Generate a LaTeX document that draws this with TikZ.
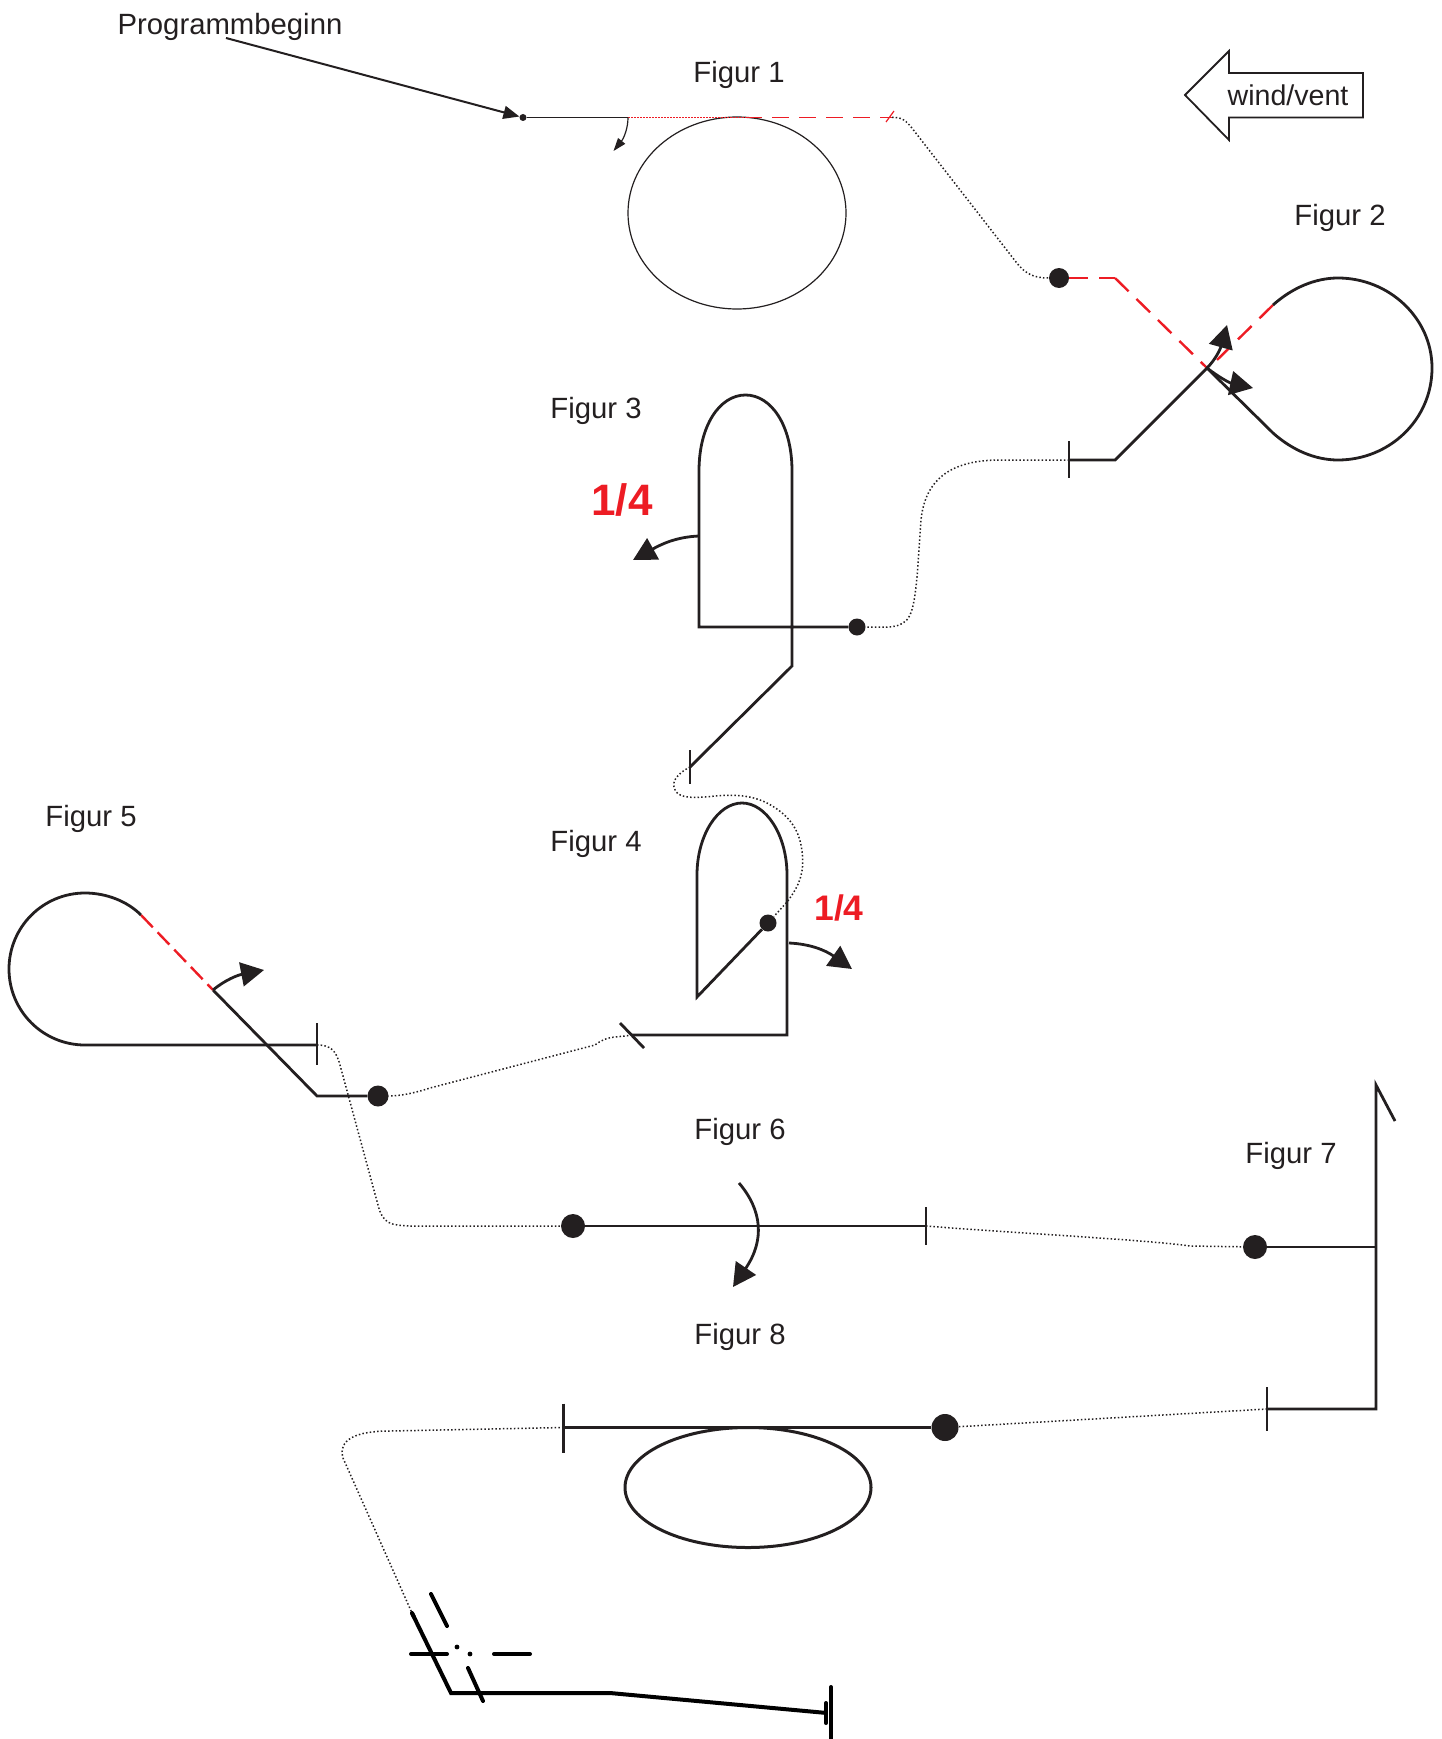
\documentclass[tikz,border=0pt]{standalone}
\usepackage{fontspec}
\setmainfont{Liberation Sans}
\usetikzlibrary{arrows.meta}
\definecolor{inkblack}{HTML}{231F20}
\definecolor{markred}{HTML}{ED1C24}
\tikzset{
	every node/.style={inner sep=0pt,text=inkblack},
	figlabel/.style={font=\fontsize{29.3}{34}\selectfont},
	quarter/.style={font=\bfseries\fontsize{#1}{#1}\selectfont,text=markred},
	blob/.style={circle,fill=inkblack,minimum size=#1},
	track/.style={draw=inkblack,line width=2.8pt,line join=miter},
	thintrack/.style={draw=inkblack,line width=1.2pt},
	redtrack/.style={draw=markred,line width=2.4pt,dash pattern=on 19pt off 11pt},
	link/.style={draw=inkblack,line width=1.5pt,dash pattern=on 1.5pt off 2.2pt},
	turn/.style={draw=inkblack,line width=2.8pt,-{Triangle[length=23pt,width=24pt]}},
	boldtrack/.style={draw=black,line width=4pt,line cap=round},
}
\begin{document}
\begin{tikzpicture}[x=1pt,y=-1pt]
	\useasboundingbox (0,0) rectangle (1442,1739);
	% labels
	\node [figlabel] (start) at (230,27) {Programmbeginn};
	\node [figlabel] (fig1) at (739,75) {Figur 1};
	\node [figlabel] (fig2) at (1340,218) {Figur 2};
	\node [figlabel] (fig3) at (596,411) {Figur 3};
	\node [figlabel] (fig4) at (596,844) {Figur 4};
	\node [figlabel] (fig5) at (91,819) {Figur 5};
	\node [figlabel] (fig6) at (740,1132) {Figur 6};
	\node [figlabel] (fig7) at (1291,1156) {Figur 7};
	\node [figlabel] (fig8) at (740,1337) {Figur 8};
	\node [quarter=44] (quarterleft) at (622,500) {1/4};
	\node [quarter=35.5] (quarterright) at (839,908) {1/4};
	% wind
	\draw [thintrack,line width=1.8pt] (1185,95) -- (1229,51) -- (1229,73) -- (1363,73) -- (1363,117.6) -- (1229,117.6) -- (1229,140) -- cycle;
	\node [figlabel,font=\fontsize{28.6}{34}\selectfont] (wind) at (1288,95) {wind/vent};
	% points
	\node [blob=7pt] (a1) at (523,117.5) {};
	\node [blob=20pt] (a2) at (1059,278) {};
	\node [blob=17pt] (a3) at (857,627) {};
	\node [blob=17pt] (a4) at (768,923) {};
	\node [blob=21pt] (a5) at (378,1096) {};
	\node [blob=24pt] (a6) at (573,1226) {};
	\node [blob=24pt] (a7) at (1255,1247) {};
	\node [blob=27pt] (a8) at (945,1427.5) {};
	\coordinate (b1) at (892,117.5);
	\coordinate (b2) at (1069,460);
	\coordinate (b3) at (690,767);
	\coordinate (b4) at (632,1035);
	\coordinate (b5) at (317,1045);
	\coordinate (b6) at (926,1226);
	\coordinate (b7) at (1267,1409);
	\coordinate (b8) at (563.5,1427.5);
	\coordinate (c1) at (628,117.5);
	\coordinate (c2) at (1207,368);
	\coordinate (c5) at (213,990);
	\coordinate (c8) at (412,1613);
	% start
	\draw [thintrack,line width=2pt,-{Triangle[length=16pt,width=13pt]}] (226,38) -- (a1);
	% figure 1
	\draw [thintrack] (737,213) circle [x radius=109,y radius=96];
	\draw [thintrack] (a1) -- (c1);
	\draw [draw=markred,line width=1.2pt,dash pattern=on 1.5pt off 1.5pt] (c1) -- (745,117.5);
	\draw [draw=markred,line width=1.5pt,dash pattern=on 17pt off 10pt] (745,117.5) -- (b1);
	\draw [draw=markred,line width=1.2pt] (886,122) -- (894,111);
	\draw [thintrack,-{Triangle[length=13pt,width=9pt]}] (c1) .. controls (628,128) and (624,138) .. (613.5,151);
	% figure 2
	\draw [redtrack] (a2) -- (1115,278);
	\draw [redtrack] (1115,278) -- (c2);
	\draw [redtrack] (1273,305) -- (1217,360);
	\draw [track] (1273,305) .. controls (1292,288) and (1315,278) .. (1338,278) .. controls (1389,278) and (1432,318) .. (1432,368) .. controls (1432,420) and (1389,460) .. (1338,460) .. controls (1315,460) and (1292,450) .. (1273,433) -- (c2) -- (1115,460) -- (b2);
	\draw [track] (b2) ++(0,-19) -- ++(0,37);
	\draw [turn] (c2) .. controls (1215,360) and (1220,350) .. (1227,325);
	\draw [turn] (c2) .. controls (1220,378) and (1230,383) .. (1253,388);
	% figure 3
	\draw [track] (a3) -- (699,627) -- (699,471) .. controls (699,425) and (720,395) .. (745.5,395) .. controls (771,395) and (792,425) .. (792,471) -- (792,666) -- (b3);
	\draw [track] (b3) ++(0,-17) -- ++(0,34);
	\draw [turn] (699,536) .. controls (675,537) and (660,545) .. (633,560);
	% figure 4
	\draw [track] (a4) -- (697,997) -- (697,875) .. controls (697,835) and (718,803) .. (742,803) .. controls (766,803) and (787,835) .. (787,875) -- (787,1035) -- (b4);
	\draw [track] (620,1023) -- (644,1048);
	\draw [turn] (789,943) .. controls (810,944) and (825,950) .. (852,969);
	% figure 5
	\draw [redtrack,dash pattern=on 17pt off 7pt] (141,915) -- (c5);
	\draw [track] (141,915) .. controls (127,901) and (106,893) .. (85,893) .. controls (43,893) and (9,927) .. (9,969) .. controls (9,1011) and (43,1045) .. (85,1045) -- (b5);
	\draw [track] (b5) ++(0,-22) -- ++(0,42);
	\draw [track] (c5) -- (317,1096) -- (a5);
	\draw [turn] (c5) .. controls (225,980) and (238,975) .. (264,970);
	% figure 6
	\draw [track] (a6) -- (b6);
	\draw [track] (b6) ++(0,-19) -- ++(0,38);
	\draw [turn] (739,1183) .. controls (762,1210) and (765,1240) .. (733,1287);
	% figure 7
	\draw [track] (a7) -- (1376,1247);
	\draw [track] (1395,1121) -- (1376,1085) -- (1376,1409) -- (b7);
	\draw [track] (b7) ++(0,-22) -- ++(0,44);
	% figure 8
	\draw [track,line width=3pt] (a8) -- (b8);
	\draw [track,line width=3pt] (b8) ++(0,-24) -- ++(0,49);
	\draw [track,line width=3pt] (748,1487.5) circle [x radius=123,y radius=60];
	\draw [boldtrack,line cap=butt,line join=miter] (c8) -- (451,1693) -- (610,1693) -- (827,1713);
	\draw [boldtrack] (412,1613) -- (414,1617);
	\draw [boldtrack] (831,1687) -- (831,1745);
	\draw [boldtrack] (826,1703) -- (826,1723);
	\draw [boldtrack] (431,1594) -- (447,1626);
	\draw [boldtrack] (468,1668) -- (483,1701);
	\draw [boldtrack] (411,1654) -- (447,1654);
	\draw [boldtrack] (494,1654) -- (530,1654);
	\fill [black] (457,1647) circle (2.4);
	\fill [black] (470,1654) circle (2.4);
	% dotted connections
	\draw [link] (b1) .. controls (902,117) and (906,120) .. (915,132) -- (1016,262) .. controls (1026,275) and (1035,278) .. (a2);
	\draw [link] (b2) -- (1000,460) .. controls (950,460) and (925,480) .. (921,520) .. controls (918,560) and (917,600) .. (910,615) .. controls (903,630) and (885,627) .. (a3);
	\draw [link] (b3) .. controls (680,772) and (672,780) .. (674,787) .. controls (676,798) and (690,798) .. (705,797) .. controls (725,795) and (745,793) .. (765,802) .. controls (785,812) and (797,825) .. (801,845) .. controls (806,870) and (800,885) .. (787,902) -- (a4);
	\draw [link] (b4) .. controls (615,1038) and (608,1035) .. (595,1045) -- (430,1088) .. controls (415,1093) and (400,1096) .. (a5);
	\draw [link] (b5) .. controls (330,1045) and (336,1050) .. (340,1065) -- (378,1205) .. controls (383,1225) and (392,1225) .. (410,1226) -- (a6);
	\draw [link] (b6) .. controls (1000,1232) and (1150,1240) .. (1190,1246) -- (a7);
	\draw [link] (b7) -- (a8);
	\draw [link] (b8) -- (390,1431) .. controls (355,1431) and (338,1440) .. (343,1458) -- (c8);
\end{tikzpicture}
\end{document}
